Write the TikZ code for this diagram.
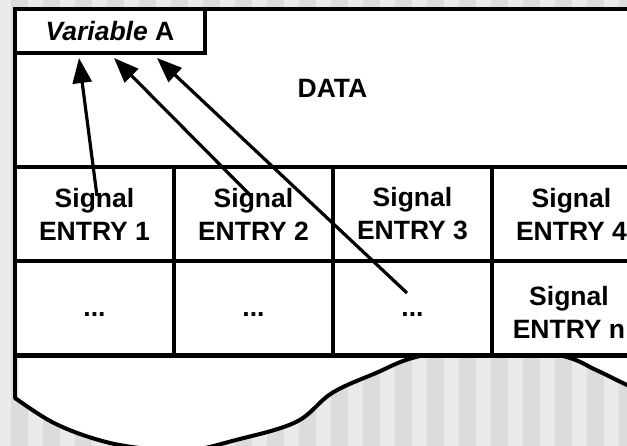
\documentclass[tikz,border=0pt]{standalone}
\usepackage{fontspec}
\setmainfont{Liberation Sans}
\usetikzlibrary{arrows.meta}
\definecolor{stripeLight}{RGB}{234,234,234}
\definecolor{stripeDark}{RGB}{220,220,220}
\begin{document}
\begin{tikzpicture}[x=1pt,y=-1pt,
  txt/.style={font=\bfseries\fontsize{26.5}{33}\selectfont},
  frame/.style={draw=black,line width=4pt,fill=white,inner sep=0pt},
  cell/.style={frame,txt,minimum width=159pt,minimum height=94pt,align=center},
  dotcell/.style={cell,text height=24pt,text depth=7pt},
  arr/.style={line width=3.2pt,-{Triangle[length=25pt,width=19pt]}}]

% page and striped backdrop
\clip (0,0) rectangle (627,446);
\fill[stripeLight] (0,0) rectangle (627,446);
\foreach \k in {0,...,19}
  \fill[stripeDark] ({11+32*\k},0) rectangle ({28+32*\k},446);

% torn lower edge of the record
\filldraw[fill=white,draw=black,line width=4pt,line join=round]
  (15,356) -- plot[smooth,tension=0.6] coordinates {(15,398) (52,422) (92,438) (132,447)
    (185,451) (236,440) (296,422) (332,393) (376,373) (416,357) (490,343) (563,356)
    (596,370) (627,385) (660,400)} -- (660,356) -- cycle;

% data block with its header field
\node[frame,txt,minimum width=635pt,minimum height=158pt] (data) at (332.5,88) {DATA};
\node[frame,txt,minimum width=190pt,minimum height=44pt] (var) at (110,31)
  {\textit{Variable} A};

% signal entry table
\node[cell] (e1) at (94.5,214) {Signal\\ENTRY 1};
\node[cell] (e2) at (253.5,214) {Signal\\ENTRY 2};
\node[cell] (e3) at (412.5,214) {Signal\\ENTRY 3};
\node[cell] (e4) at (571.5,214) {Signal\\ENTRY 4};
\node[dotcell] (d1) at (94.5,308) {...};
\node[dotcell] (d2) at (253.5,308) {...};
\node[dotcell] (d3) at (412.5,308) {...};
\node[cell] (en) at (571.5,308) {};
\node[txt,align=center,inner sep=0pt] (entn) at (569,312.5) {Signal\\ENTRY n};

% references back to the variable
\coordinate (s1) at (97,196);
\coordinate (s2) at (252,197);
\coordinate (s3) at (407,293);
\coordinate (t1) at (79,58);
\coordinate (t2) at (114,58);
\coordinate (t3) at (157,58);
\draw[arr] (s1) -- (t1);
\draw[arr] (s2) -- (t2);
\draw[arr] (s3) -- (t3);
\end{tikzpicture}
\end{document}
